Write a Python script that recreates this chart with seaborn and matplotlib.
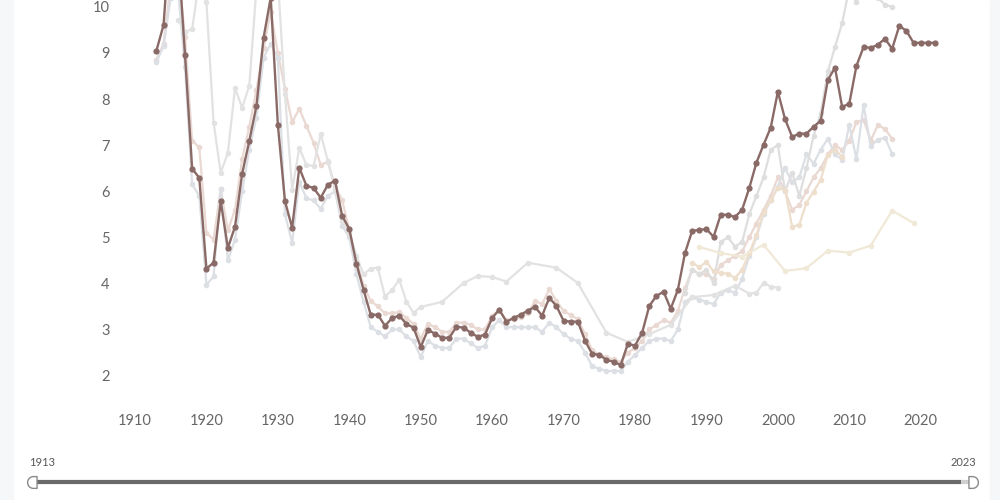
import numpy as np
import pandas as pd
import seaborn as sns
import matplotlib.pyplot as plt
from matplotlib.path import Path
from matplotlib.patches import Rectangle

# highlighted series, one value per year 1913-2022
main_years = list(range(1913, 2023))
main_vals = [9.05, 9.61, 11.8, 11.3, 8.96, 6.49, 6.29, 4.32, 4.45, 5.78,
             4.77, 5.23, 6.38, 7.09, 7.85, 9.33, 10.2, 7.44, 5.78, 5.21,
             6.51, 6.12, 6.07, 5.86, 6.14, 6.23, 5.47, 5.18, 4.43, 3.86,
             3.32, 3.32, 3.08, 3.25, 3.30, 3.12, 3.04, 2.62, 2.99, 2.91,
             2.82, 2.82, 3.06, 3.04, 2.93, 2.84, 2.89, 3.25, 3.43, 3.17,
             3.25, 3.32, 3.41, 3.49, 3.30, 3.69, 3.51, 3.19, 3.17, 3.17,
             2.76, 2.47, 2.45, 2.34, 2.30, 2.23, 2.69, 2.65, 2.93, 3.51,
             3.73, 3.82, 3.45, 3.86, 4.66, 5.14, 5.16, 5.18, 5.01, 5.49,
             5.49, 5.44, 5.60, 6.07, 6.62, 7.01, 7.38, 8.16, 7.57, 7.18,
             7.25, 7.25, 7.40, 7.53, 8.42, 8.68, 7.83, 7.90, 8.72, 9.13,
             9.11, 9.18, 9.31, 9.09, 9.59, 9.48, 9.22, 9.22, 9.22, 9.22]

# faded comparison series
pink_years = list(range(1913, 2017))
pink_vals = [8.85, 9.2, 10.5, 10.9, 9.35, 7.1, 6.95, 5.1, 4.95, 6.05,
             5.15, 5.6, 6.7, 7.4, 8.2, 9.1, 9.9, 9.0, 8.22, 7.5,
             7.79, 7.42, 7.05, 6.57, 6.64, 6.1, 5.81, 5.16, 4.5, 3.95,
             3.62, 3.5, 3.35, 3.35, 3.38, 3.25, 3.12, 2.8, 3.12, 3.05,
             2.95, 2.95, 3.15, 3.15, 3.1, 3.0, 3.0, 3.3, 3.42, 3.2,
             3.22, 3.28, 3.35, 3.62, 3.55, 3.88, 3.62, 3.4, 3.32, 3.22,
             2.9, 2.55, 2.45, 2.4, 2.35, 2.3, 2.5, 2.6, 2.75, 3.0,
             3.1, 3.2, 3.15, 3.4, 3.9, 4.3, 4.2, 4.2, 4.1, 4.4,
             4.5, 4.6, 4.7, 5.0, 5.3, 5.6, 5.9, 6.3, 6.0, 5.6,
             5.7, 6.0, 6.3, 6.5, 6.8, 7.0, 6.9, 7.1, 7.5, 7.55,
             7.1, 7.44, 7.35, 7.14]

blue_years = list(range(1913, 2017))
blue_vals = [8.8, 9.15, 10.2, 10.4, 8.7, 6.15, 5.9, 3.97, 4.15, 6.05,
             4.5, 4.95, 6.0, 6.9, 7.6, 8.9, 9.2, 8.9, 5.5, 4.88,
             6.2, 5.85, 5.8, 5.62, 5.9, 6.0, 5.25, 5.0, 4.2, 3.6,
             3.05, 2.95, 2.85, 3.0, 3.0, 2.85, 2.75, 2.4, 2.75, 2.65,
             2.6, 2.6, 2.8, 2.8, 2.7, 2.6, 2.65, 3.05, 3.2, 3.05,
             3.05, 3.05, 3.05, 3.05, 2.95, 3.15, 3.05, 2.9, 2.8, 2.75,
             2.5, 2.2, 2.15, 2.1, 2.1, 2.1, 2.3, 2.45, 2.6, 2.75,
             2.8, 2.8, 2.75, 3.0, 3.6, 3.7, 3.65, 3.6, 3.55, 3.8,
             3.85, 3.8, 4.1, 4.6, 5.0, 5.5, 5.8, 6.1, 6.5, 6.2,
             6.3, 6.8, 6.6, 6.9, 7.14, 6.8, 6.68, 7.44, 6.7, 7.87,
             6.98, 7.12, 7.16, 6.81]

gray_years = [1916, 1917, 1918, 1919, 1920, 1921, 1922, 1923, 1924, 1925,
              1926, 1927, 1928, 1929, 1930, 1931, 1932, 1933, 1934, 1935,
              1936, 1937, 1938, 1939, 1940, 1941, 1942, 1943, 1944, 1945,
              1946, 1947, 1948, 1949, 1950, 1953, 1956, 1958, 1960, 1962,
              1965, 1969, 1972, 1976, 1979, 1982, 1985, 1988, 1991, 1994,
              1996, 1997, 1998, 1999, 2000]
gray_vals = [9.72, 9.46, 9.52, 10.6, 10.1, 7.49, 6.4, 6.83, 8.24, 7.81,
             8.29, 10.4, 10.9, 11.2, 10.6, 8.1, 6.03, 6.94, 6.57, 6.55,
             7.24, 6.66, 6.05, 5.35, 5.1, 4.6, 4.2, 4.32, 4.34, 3.71,
             3.86, 4.08, 3.6, 3.36, 3.49, 3.6, 4.01, 4.16, 4.14, 4.04,
             4.45, 4.34, 4.01, 2.93, 2.73, 2.9, 3.1, 3.7, 3.75, 3.95,
             3.78, 3.8, 4.01, 3.93, 3.91]

steep_years = list(range(1987, 2017))
steep_vals = [3.8, 4.3, 4.2, 4.3, 4.0, 4.9, 5.0, 4.8, 4.9, 5.5,
              5.9, 6.3, 6.9, 7.0, 6.0, 6.4, 5.9, 6.5, 7.2, 7.7,
              8.6, 9.13, 9.65, 10.4, 10.1, 10.5, 10.4, 10.2, 10.05, 10.0]

tan_years = list(range(1988, 2010))
tan_vals = [4.45, 4.35, 4.47, 4.26, 4.23, 4.21, 4.12, 4.3, 4.66, 5.05,
            5.55, 5.81, 6.07, 6.03, 5.23, 5.27, 5.75, 5.99, 6.25, 6.79,
            6.9, 6.75]

cream_years = [1989, 1992, 1995, 1998, 2001, 2004, 2007, 2010, 2013, 2016, 2019]
cream_vals = [4.79, 4.66, 4.58, 4.84, 4.27, 4.33, 4.71, 4.67, 4.82, 5.58, 5.31]

y_ticks = [2, 3, 4, 5, 6, 7, 8, 9, 10]
x_ticks = [1910, 1920, 1930, 1940, 1950, 1960, 1970, 1980, 1990, 2000, 2010, 2020]
slider_range = [1913, 2023]

bg = {
    'pink': (pink_years, pink_vals, '#ead9d3'),
    'blue': (blue_years, blue_vals, '#dcdfe4'),
    'gray': (gray_years, gray_vals, '#e2e2e2'),
    'steep': (steep_years, steep_vals, '#dedede'),
    'tan': (tan_years, tan_vals, '#eedfcd'),
    'cream': (cream_years, cream_vals, '#f1e9d7'),
}

frames = []
for name, (yrs, vals, _) in bg.items():
    frames.append(pd.DataFrame({'year': yrs, 'value': vals, 'series': name}))
df_bg = pd.concat(frames, ignore_index=True)
df_main = pd.DataFrame({'year': main_years, 'value': main_vals})

sns.set_theme(style='white')
plt.rcParams['font.family'] = ['Lato', 'DejaVu Sans']

fig = plt.figure(figsize=(10, 5), dpi=100)

# faint page edges
fig.add_artist(Rectangle((0, 0), 0.013, 1, transform=fig.transFigure,
                         color='#f6f7f8', zorder=0))
fig.add_artist(Rectangle((0.99, 0), 0.01, 1, transform=fig.transFigure,
                         color='#f6f7f8', zorder=0))

ax = fig.add_axes([0.115, 0.2, 0.84, 0.8])
ax.patch.set_alpha(0)

palette = {k: v[2] for k, v in bg.items()}
sns.lineplot(data=df_bg, x='year', y='value', hue='series', units='series',
             estimator=None, palette=palette, marker='o', markersize=4,
             markeredgewidth=0, linewidth=1.6, legend=False, ax=ax, zorder=2)
sns.lineplot(data=df_main, x='year', y='value', color='#8a6a66', marker='o',
             markersize=4.5, markeredgewidth=0, linewidth=1.7, ax=ax, zorder=5)

ax.set_xlim(1907.2, 2024.8)
ax.set_ylim(1.47, 10.15)
ax.set_xticks(x_ticks)
ax.set_yticks(y_ticks)
ax.set_xlabel('')
ax.set_ylabel('')
ax.tick_params(axis='both', length=0, labelsize=10.5, colors='#666666')
ax.tick_params(axis='x', pad=10)
ax.tick_params(axis='y', pad=4)
sns.despine(ax=ax, left=True, bottom=True)

# D-shaped slider handles
t = np.linspace(np.pi / 2, 3 * np.pi / 2, 24)
left_d = Path(list(zip(np.cos(t), np.sin(t))) + [(0.6, -1), (0.6, 1), (0, 1)], closed=True)
right_d = Path(list(zip(-np.cos(t), np.sin(t))) + [(-0.6, -1), (-0.6, 1), (0, 1)], closed=True)

# range slider underneath
sl = fig.add_axes([0.033, 0.0, 0.939, 0.1])
sl.set_xlim(slider_range[0], slider_range[1])
sl.set_ylim(0, 1)
sl.axis('off')
sl.plot(slider_range, [0.36, 0.36], color='#cfcfcf', linewidth=3, solid_capstyle='butt')
sl.plot([slider_range[0], slider_range[1] - 1.3], [0.36, 0.36], color='#6a6a6a',
        linewidth=3, solid_capstyle='butt')
sl.plot(slider_range[0], 0.36, linestyle='none', marker=left_d, markersize=8.5,
        markerfacecolor='white', markeredgecolor='#8a8a8a', markeredgewidth=1,
        clip_on=False, zorder=5)
sl.plot(slider_range[1], 0.36, linestyle='none', marker=right_d, markersize=8.5,
        markerfacecolor='white', markeredgecolor='#8a8a8a', markeredgewidth=1,
        clip_on=False, zorder=5)
sl.text(slider_range[0] - 0.5, 0.74, str(slider_range[0]), ha='left', va='center',
        fontsize=8, color='#555555')
sl.text(slider_range[1] + 0.5, 0.74, str(slider_range[1]), ha='right', va='center',
        fontsize=8, color='#555555')

fig.savefig('out.png', dpi=100)
